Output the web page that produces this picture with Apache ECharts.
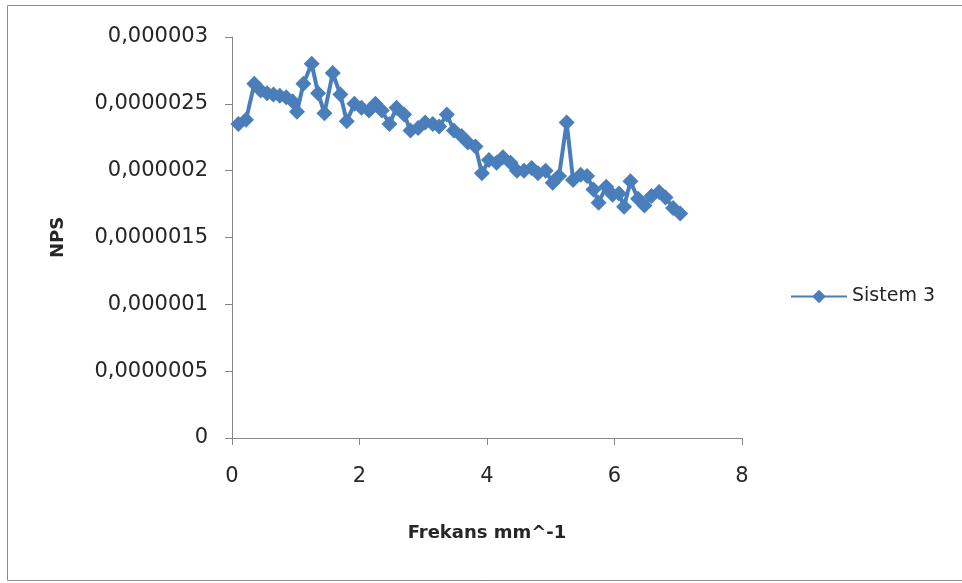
<!DOCTYPE html>
<html>
<head>
<meta charset="utf-8">
<script src="https://cdn.jsdelivr.net/npm/echarts@6/dist/echarts.min.js"></script>
<style>
  html, body { margin: 0; padding: 0; background: #fff; }
  #chart { width: 962px; height: 583px; }
</style>
</head>
<body>
<div id="chart"></div>
<script>
// Frequency (mm^-1) and NPS values for Sistem 3
const frekans = [
  0.10, 0.22, 0.35, 0.45, 0.55, 0.65, 0.75, 0.85, 0.95, 1.02,
  1.12, 1.25, 1.35, 1.45, 1.58, 1.70, 1.80, 1.92, 2.03, 2.15,
  2.25, 2.35, 2.47, 2.58, 2.70, 2.80, 2.92, 3.03, 3.15, 3.25,
  3.37, 3.48, 3.60, 3.70, 3.82, 3.92, 4.03, 4.15, 4.25, 4.37,
  4.47, 4.58, 4.70, 4.80, 4.92, 5.03, 5.13, 5.25, 5.35, 5.47,
  5.57, 5.67, 5.75, 5.87, 5.97, 6.07, 6.15, 6.25, 6.37, 6.47,
  6.58, 6.70, 6.80, 6.92, 7.03
];
// NPS in units of 1e-6
const nps = [
  2.35, 2.38, 2.65, 2.60, 2.58, 2.57, 2.56, 2.55, 2.52, 2.44,
  2.65, 2.80, 2.58, 2.43, 2.73, 2.57, 2.37, 2.50, 2.47, 2.45,
  2.50, 2.45, 2.35, 2.47, 2.42, 2.30, 2.32, 2.36, 2.35, 2.33,
  2.42, 2.30, 2.26, 2.21, 2.18, 1.98, 2.08, 2.06, 2.10, 2.06,
  2.00, 2.00, 2.02, 1.98, 2.00, 1.91, 1.96, 2.36, 1.93, 1.97,
  1.96, 1.86, 1.76, 1.88, 1.82, 1.83, 1.73, 1.92, 1.79, 1.74,
  1.81, 1.84, 1.80, 1.72, 1.68
];
const seriesName = 'Sistem 3';
const xTicks = ['0', '2', '4', '6', '8'];
const yTicks = ['0', '0,0000005', '0,000001', '0,0000015', '0,000002', '0,0000025', '0,000003'];

const points = frekans.map((f, i) => [f, nps[i]]);
const axisGray = '#868686';
const labelFont = 'DejaVu Sans';

const chart = echarts.init(document.getElementById('chart'));
chart.setOption({
  animation: false,
  backgroundColor: '#ffffff',
  graphic: [{
    type: 'rect',
    shape: { x: 7.5, y: 5.5, width: 970, height: 575 },
    style: { fill: 'none', stroke: '#8c8c8c', lineWidth: 1 },
    silent: true
  }],
  grid: { left: 232, right: 220, top: 37, bottom: 145 },
  legend: {
    left: 785,
    top: 282,
    itemWidth: 56,
    itemHeight: 17,
    itemGap: 5,
    textStyle: { fontFamily: labelFont, fontSize: 19, color: '#262626' },
    data: [seriesName]
  },
  xAxis: {
    type: 'value',
    min: 0, max: 8, interval: 2,
    name: 'Frekans mm^-1',
    nameLocation: 'middle',
    nameGap: 86,
    nameTextStyle: { fontFamily: labelFont, fontWeight: 'bold', fontSize: 18, color: '#262626' },
    axisLine: { show: true, lineStyle: { color: axisGray, width: 1 } },
    axisTick: { show: true, length: 7, lineStyle: { color: axisGray } },
    axisLabel: {
      margin: 28,
      fontFamily: labelFont, fontSize: 21, color: '#262626',
      formatter: (v) => xTicks[Math.round(v / 2)]
    },
    splitLine: { show: false }
  },
  yAxis: {
    type: 'value',
    min: 0, max: 3, interval: 0.5,
    name: 'NPS',
    nameLocation: 'middle',
    nameGap: 165,
    nameRotate: 90,
    nameTextStyle: { fontFamily: labelFont, fontWeight: 'bold', fontSize: 18, color: '#262626' },
    axisLine: { show: true, lineStyle: { color: axisGray, width: 1 } },
    axisTick: { show: true, length: 7, lineStyle: { color: axisGray } },
    axisLabel: {
      margin: 24,
      fontFamily: labelFont, fontSize: 21, color: '#262626',
      formatter: (v) => yTicks[Math.round(v / 0.5)]
    },
    splitLine: { show: false }
  },
  series: [{
    name: seriesName,
    type: 'line',
    data: points,
    symbol: 'diamond',
    symbolSize: 16,
    showAllSymbol: true,
    lineStyle: { color: '#4a7ebb', width: 4 },
    itemStyle: { color: '#4a7ebb' }
  }]
});
</script>
</body>
</html>
